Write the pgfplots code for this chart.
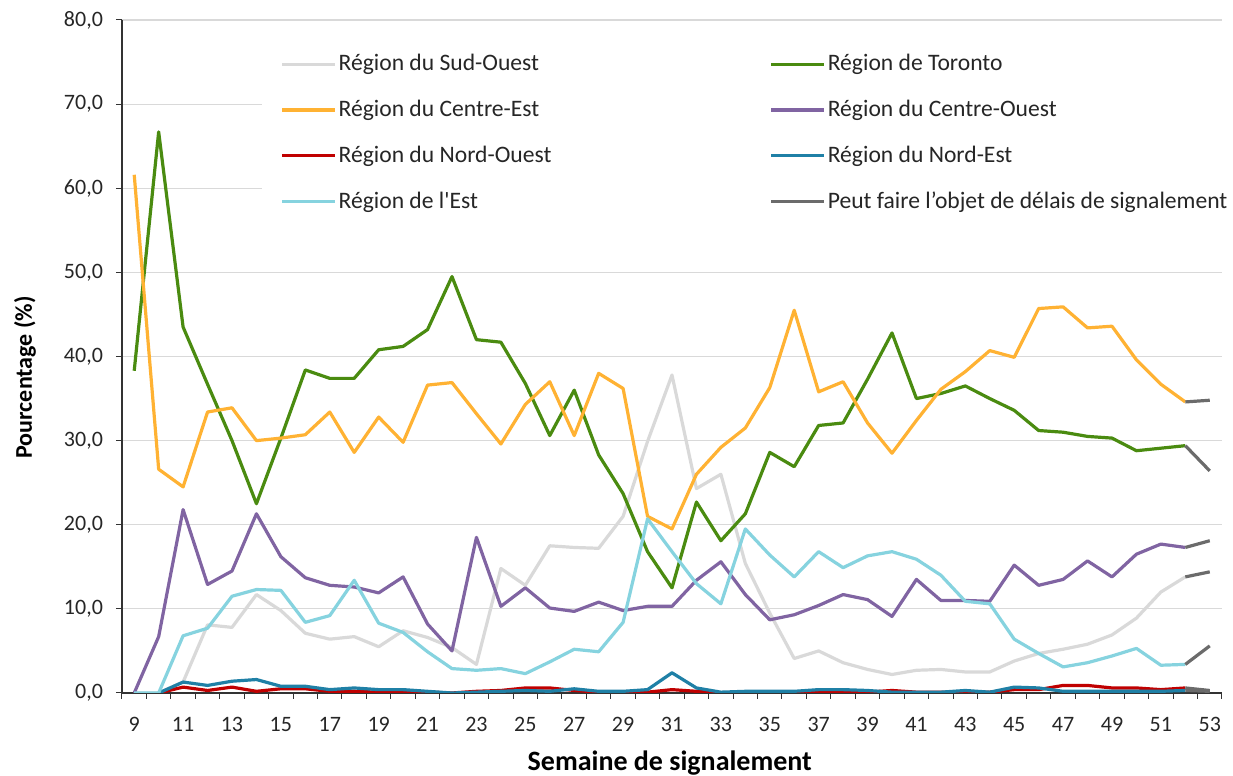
\documentclass[border=0pt]{standalone}
\usepackage{pgfplots}
\usepackage{pgfplotstable}
\pgfplotsset{compat=1.18}
\usepackage{fontspec}
\setmainfont{Carlito}
\definecolor{cso}{HTML}{D9D9D9}
\definecolor{cto}{HTML}{4A8B10}
\definecolor{cce}{HTML}{FFB233}
\definecolor{cco}{HTML}{8064A2}
\definecolor{cno}{HTML}{C00000}
\definecolor{cne}{HTML}{1F80A6}
\definecolor{ces}{HTML}{86D3DF}
\definecolor{cdl}{HTML}{6B6B6B}
\definecolor{gridc}{HTML}{D9D9D9}
\definecolor{txtc}{HTML}{262626}
\pgfplotstableread{
w so to ce co no ne es
9 0 38.3 61.6 0 nan nan 0
10 0 66.7 26.6 6.7 0 0 0
11 1.3 43.5 24.5 21.8 0.7 1.3 6.8
12 8.1 36.7 33.4 12.9 0.3 0.9 7.7
13 7.8 30.0 33.9 14.5 0.7 1.4 11.5
14 11.7 22.5 30.0 21.3 0.2 1.6 12.3
15 9.8 30.3 30.3 16.2 0.5 0.8 12.2
16 7.1 38.4 30.7 13.7 0.5 0.8 8.4
17 6.4 37.4 33.4 12.8 0.2 0.4 9.2
18 6.7 37.4 28.6 12.6 0.2 0.6 13.4
19 5.5 40.8 32.8 11.9 0.1 0.4 8.3
20 7.4 41.2 29.8 13.8 0.1 0.4 7.2
21 6.6 43.2 36.6 8.2 0.1 0.2 4.9
22 5.4 49.5 36.9 5.0 0 0.0 2.9
23 3.4 42.0 33.2 18.5 0.2 0.1 2.7
24 14.8 41.7 29.6 10.3 0.3 0.2 2.9
25 12.8 36.8 34.3 12.5 0.6 0.3 2.3
26 17.5 30.6 37.0 10.1 0.6 0.2 3.7
27 17.3 36.0 30.6 9.7 0.3 0.5 5.2
28 17.2 28.3 38.0 10.8 0.1 0.2 4.9
29 21.0 23.7 36.2 9.8 0.1 0.2 8.4
30 29.9 16.8 21.0 10.3 0.1 0.4 20.7
31 37.8 12.5 19.5 10.3 0.4 2.4 16.8
32 24.3 22.7 26.0 13.4 0.2 0.6 13.0
33 26.0 18.1 29.2 15.6 0.0 0.1 10.6
34 15.4 21.3 31.5 11.7 0.1 0.2 19.5
35 9.5 28.6 36.3 8.7 0.1 0.2 16.4
36 4.1 26.9 45.5 9.3 0.1 0.2 13.8
37 5.0 31.8 35.8 10.4 0.1 0.4 16.8
38 3.6 32.1 37.0 11.7 0.1 0.4 14.9
39 2.8 37.3 32.1 11.1 0.1 0.3 16.3
40 2.2 42.8 28.5 9.1 0.3 0.1 16.8
41 2.7 35.0 32.4 13.5 0.1 0.1 15.9
42 2.8 35.6 36.1 11.0 0.1 0.1 14.0
43 2.5 36.5 38.2 11.0 0.0 0.3 10.9
44 2.5 35.0 40.7 10.9 0.1 0.1 10.6
45 3.8 33.6 39.9 15.2 0.4 0.7 6.4
46 4.7 31.2 45.7 12.8 0.4 0.6 4.7
47 5.2 31.0 45.9 13.5 0.9 0.2 3.1
48 5.8 30.5 43.4 15.7 0.9 0.2 3.6
49 6.9 30.3 43.6 13.8 0.6 0.2 4.4
50 8.9 28.8 39.6 16.5 0.6 0.2 5.3
51 12.0 29.1 36.7 17.7 0.4 0.2 3.3
52 13.8 29.4 34.6 17.3 0.6 0.3 3.4
}\datatab
\pgfplotstableread{
w so to ce co no ne es
52 13.8 29.4 34.6 17.3 0.6 0.3 3.4
53 14.4 26.4 34.8 18.1 0.3 0.2 5.6
}\delaytab
\begin{document}
\begin{tikzpicture}
\path[use as bounding box] (-61pt,-41.5pt) rectangle (555.5pt,346.5pt);
\begin{axis}[
  at={(0,0)}, anchor=south west,
  scale only axis, width=550pt, height=336.5pt,
  xmin=8.5, xmax=53.5, ymin=0, ymax=80,
  axis x line*=bottom, axis y line*=left,
  axis line style={-, draw=black!80, line width=0.6pt},
  xtick={8.5,9.5,...,53.5}, xticklabels={},
  extra x ticks={9,11,...,53},
  extra x tick style={major tick length=0pt, grid=none},
  ytick={0,10,...,80},
  ymajorgrids, grid style={draw=gridc, line width=0.6pt},
  tick align=outside, major tick length=3pt,
  tick style={draw=black!80, line width=0.5pt},
  /pgf/number format/assume math mode=true,
  tick label style={font=\fontsize{11}{13}\selectfont, text=txtc},
  yticklabel style={/pgf/number format/fixed, /pgf/number format/fixed zerofill, /pgf/number format/precision=1, /pgf/number format/use comma, xshift=-3pt},
  xticklabel style={yshift=-8.5pt},
  ylabel={Pourcentage (\%)},
  xlabel={Semaine de signalement},
  every axis y label/.style={at={(axis description cs:-0.0882,0.469)}, anchor=center, rotate=90, font=\bfseries\fontsize{12}{14}\selectfont},
  every axis x label/.style={at={(axis description cs:0.498,-0.1145)}, anchor=base, font=\bfseries\fontsize{14}{16}\selectfont},
  every axis plot/.append style={line width=1.6pt, line join=round},
  legend columns=2,
  legend cell align=left,
  legend image code/.code={\draw[#1, line width=1.6pt] (0pt,0pt) -- (26.5pt,0pt);},
  legend style={at={(axis description cs:0.1273,0.976)}, anchor=north west, draw=none, fill=white,
    inner xsep=9pt, inner ysep=7pt, font=\fontsize{11.8}{14}\selectfont, text=txtc,
    row sep=9.2pt, nodes={inner xsep=1pt, inner ysep=2pt},
    /tikz/every odd column/.append style={column sep=0pt},
    /tikz/every even column/.append style={column sep=3.5pt}},
]
\addplot[cso] table[x=w, y=so] {\datatab};
\addlegendentry{\makebox[211pt][l]{Région du Sud-Ouest}}
\addplot[cto] table[x=w, y=to] {\datatab};
\addlegendentry{Région de Toronto}
\addplot[cce] table[x=w, y=ce] {\datatab};
\addlegendentry{\makebox[211pt][l]{Région du Centre-Est}}
\addplot[cco] table[x=w, y=co] {\datatab};
\addlegendentry{Région du Centre-Ouest}
\addplot[cno] table[x=w, y=no] {\datatab};
\addlegendentry{\makebox[211pt][l]{Région du Nord-Ouest}}
\addplot[cne] table[x=w, y=ne] {\datatab};
\addlegendentry{Région du Nord-Est}
\addplot[ces] table[x=w, y=es] {\datatab};
\addlegendentry{\makebox[211pt][l]{Région de l\textquotesingle Est}}
\addplot[cdl] table[x=w, y=to] {\delaytab};
\addlegendentry{Peut faire l’objet de délais de signalement}
\addplot[cdl, forget plot] table[x=w, y=so] {\delaytab};
\addplot[cdl, forget plot] table[x=w, y=ce] {\delaytab};
\addplot[cdl, forget plot] table[x=w, y=co] {\delaytab};
\addplot[cdl, forget plot] table[x=w, y=no] {\delaytab};
\addplot[cdl, forget plot] table[x=w, y=ne] {\delaytab};
\addplot[cdl, forget plot] table[x=w, y=es] {\delaytab};
\end{axis}
\end{tikzpicture}
\end{document}
